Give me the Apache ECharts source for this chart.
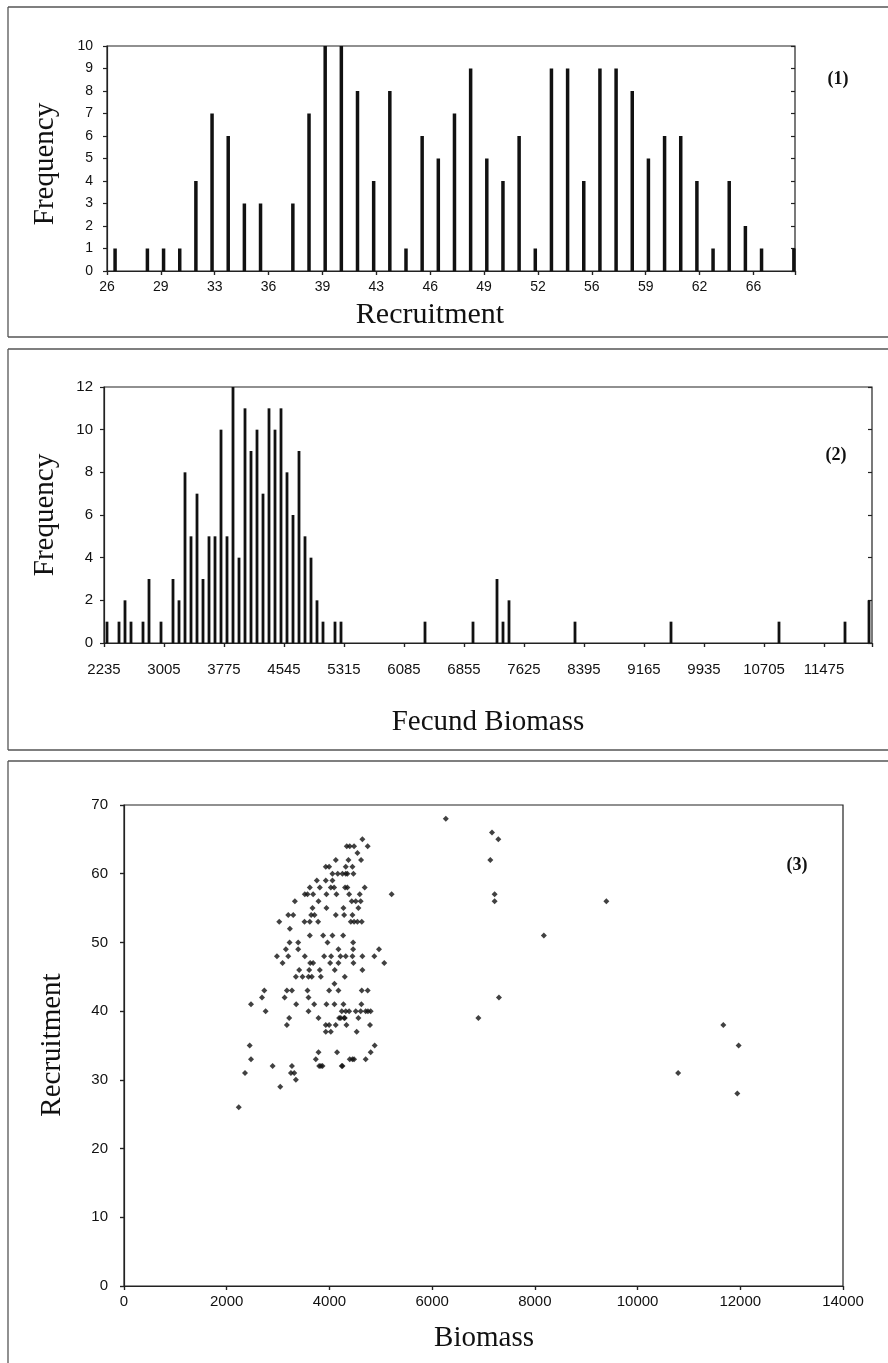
<!DOCTYPE html>
<html>
<head>
<meta charset="utf-8">
<script src="https://cdn.jsdelivr.net/npm/echarts@6.0.0/dist/echarts.min.js"></script>
<style>
  html, body { margin: 0; padding: 0; background: #fff; }
  #chart { width: 888px; height: 1363px; }
</style>
</head>
<body>
<div id="chart"></div>
<script>
// (1) recruitment histogram, bins of width 1 starting at 26
const recruitBins = [26, 27, 28, 29, 30, 31, 32, 33, 34, 35, 36, 37, 38, 39, 40, 41, 42, 43, 44, 45, 46,
  47, 48, 49, 50, 51, 52, 53, 54, 55, 56, 57, 58, 59, 60, 61, 62, 63, 64, 65, 66, 67, 68];
const recruitFreq = [1, 0, 1, 1, 1, 4, 7, 6, 3, 3, 0, 3, 7, 10, 10, 8, 4, 8, 1, 6, 5,
  7, 9, 5, 4, 6, 1, 9, 9, 4, 9, 9, 8, 5, 6, 6, 4, 1, 4, 2, 1, 0, 1];
const recruitTicks = ["26", "29", "33", "36", "39", "43", "46", "49", "52", "56", "59", "62", "66"];

// (2) fecund biomass histogram, bins of width 77 (only non-empty bins listed)
const fecundBinWidth = 77;
const fecundBins = [2235, 2389, 2466, 2543, 2697, 2774, 2928, 3082, 3159, 3236, 3313, 3390, 3467, 3544,
  3621, 3698, 3775, 3852, 3929, 4006, 4083, 4160, 4237, 4314, 4391, 4468, 4545, 4622, 4699, 4776,
  4853, 4930, 5007, 5161, 5238, 6316, 6932, 7240, 7317, 7394, 8241, 9473, 10859, 11706, 12014];
const fecundFreq = [1, 1, 2, 1, 1, 3, 1, 3, 2, 8, 5, 7, 3, 5,
  5, 10, 5, 12, 4, 11, 9, 10, 7, 11, 10, 11, 8, 6, 9, 5,
  4, 2, 1, 1, 1, 1, 1, 3, 1, 2, 1, 1, 1, 1, 2];

// (3) biomass vs recruitment
const biomass = [2234, 11942, 3042, 3347,
  2356, 3250, 3315, 10790,
  2894, 3270, 3800, 3865, 4254, 3835, 4240,
  2473, 3735, 4396, 4448, 4480, 4706,
  3787, 4149, 4803,
  2447, 4881, 11968,
  3929, 4027, 4531,
  3172, 3929, 3994, 4123, 4331, 4790, 11670,
  3217, 3787, 4189, 4286, 4564, 6900, 4220, 4300,
  2758, 3593, 4240, 4318, 4383, 4512, 4609, 4706, 4803, 4750,
  2473, 3353, 3703, 3942, 4098, 4273, 4622,
  2687, 3127, 3593, 7301,
  2732, 3172, 3270, 3573, 3994, 4176, 4629, 4745,
  4098,
  3347, 3476, 3593, 3657, 3832, 4299,
  3411, 3606, 3813, 4104, 4641,
  3087, 3625, 3683, 4014, 4176, 4467, 5068,
  2978, 3198, 3521, 3897, 4033, 4215, 4318, 4448, 4641, 4874,
  3152, 3392, 4176, 4461, 4965,
  3224, 3392, 3962, 4461,
  3618, 3877, 4059, 4267, 8175,
  3230,
  3023, 3515, 3618, 3780, 4416, 4480, 4545, 4629,
  3198, 3295, 3645, 3710, 4124, 4286, 4448,
  3670, 3942, 4273, 4564,
  3327, 3787, 4435, 4512, 4609, 7217, 9392,
  3521, 3573, 3683, 3942, 4137, 4383, 4590, 5211, 7217,
  3618, 3813, 4027, 4091, 4305, 4350, 4687,
  3754, 3929, 4059,
  4059, 4162, 4253, 4318, 4350, 4467,
  3929, 3994, 4318, 4448,
  4124, 4370, 4616, 7133,
  4545,
  4337, 4396, 4480, 4745,
  4641, 7289,
  7166,
  6266];
const recruitment = [26, 28, 29, 30,
  31, 31, 31, 31,
  32, 32, 32, 32, 32, 32, 32,
  33, 33, 33, 33, 33, 33,
  34, 34, 34,
  35, 35, 35,
  37, 37, 37,
  38, 38, 38, 38, 38, 38, 38,
  39, 39, 39, 39, 39, 39, 39, 39,
  40, 40, 40, 40, 40, 40, 40, 40, 40, 40,
  41, 41, 41, 41, 41, 41, 41,
  42, 42, 42, 42,
  43, 43, 43, 43, 43, 43, 43, 43,
  44,
  45, 45, 45, 45, 45, 45,
  46, 46, 46, 46, 46,
  47, 47, 47, 47, 47, 47, 47,
  48, 48, 48, 48, 48, 48, 48, 48, 48, 48,
  49, 49, 49, 49, 49,
  50, 50, 50, 50,
  51, 51, 51, 51, 51,
  52,
  53, 53, 53, 53, 53, 53, 53, 53,
  54, 54, 54, 54, 54, 54, 54,
  55, 55, 55, 55,
  56, 56, 56, 56, 56, 56, 56,
  57, 57, 57, 57, 57, 57, 57, 57, 57,
  58, 58, 58, 58, 58, 58, 58,
  59, 59, 59,
  60, 60, 60, 60, 60, 60,
  61, 61, 61, 61,
  62, 62, 62, 62,
  63,
  64, 64, 64, 64,
  65, 65,
  66,
  68];

const ink = "#111";
const sans = "Liberation Sans";
const serif = "Liberation Serif";

const lineStyle = { color: "#222", width: 1.2 };

// a value axis in the scanned Excel style
const mkAxis = (gridIndex, min, max, interval, fontSize, margin, formatter) => ({
  type: "value",
  gridIndex: gridIndex,
  min: min,
  max: max,
  interval: interval,
  splitLine: { show: false },
  axisLine: { show: true, onZero: false, lineStyle: lineStyle },
  axisTick: { show: true, length: 4, lineStyle: lineStyle },
  axisLabel: {
    color: ink,
    fontFamily: sans,
    fontSize: fontSize,
    margin: margin,
    formatter: formatter || ((v) => String(v)),
  },
});

// twin axis that only draws the inner half of the crossing ticks
const mkInnerTicks = (gridIndex, min, max, interval) => ({
  type: "value",
  gridIndex: gridIndex,
  min: min,
  max: max,
  interval: interval,
  splitLine: { show: false },
  axisLine: { show: false },
  axisLabel: { show: false },
  axisTick: { show: true, inside: true, length: 4, lineStyle: lineStyle },
});

const recruitStep = 10 / 3;
const recruitLabel = (v) => {
  const i = Math.round((v - 26) / recruitStep);
  if (Math.abs(v - (26 + i * recruitStep)) > 0.01) return "";
  return recruitTicks[i] || "";
};
const fecundLabel = (v) => ((v - 2235) % 770 === 0 ? String(v) : "");

const frame = (x1, y1, x2, y2) => ({
  type: "line",
  shape: { x1: x1, y1: y1, x2: x2, y2: y2 },
  style: { stroke: "#555", lineWidth: 1.3 },
});
const label = (text, x, y, size, opts = {}) => ({
  type: "text",
  x: x,
  y: y,
  rotation: opts.rotate ? Math.PI / 2 : 0,
  style: {
    text: text,
    fill: ink,
    font: (opts.bold ? "bold " : "") + size + "px " + serif,
    align: "center",
    verticalAlign: "middle",
  },
});

var chartDom = document.getElementById("chart");
var myChart = echarts.init(chartDom, null, { renderer: "canvas" });
var option;

option = {
  backgroundColor: "#fff",
  animation: false,
  grid: [
    { left: 107, top: 46, width: 688, height: 225, show: true, borderColor: "#222", borderWidth: 1.2, outerBoundsMode: "none" },
    { left: 104, top: 387, width: 768, height: 256, show: true, borderColor: "#222", borderWidth: 1.2, outerBoundsMode: "none" },
    { left: 124, top: 805, width: 719, height: 481, show: true, borderColor: "#222", borderWidth: 1.2, outerBoundsMode: "none" },
  ],
  xAxis: [
    mkAxis(0, 26, 68.57, recruitStep, 14, 9, recruitLabel),
    mkAxis(1, 2235, 2235 + 128 * fecundBinWidth, 770, 15, 19, fecundLabel),
    mkAxis(2, 0, 14000, 2000, 15, 8),
    mkInnerTicks(0, 26, 68.57, recruitStep),
    mkInnerTicks(1, 2235, 2235 + 128 * fecundBinWidth, 770),
    mkInnerTicks(2, 0, 14000, 2000),
  ],
  yAxis: [
    mkAxis(0, 0, 10, 1, 14, 14),
    mkAxis(1, 0, 12, 2, 15, 11),
    mkAxis(2, 0, 70, 10, 15, 16),
    mkInnerTicks(0, 0, 10, 1),
    mkInnerTicks(1, 0, 12, 2),
    mkInnerTicks(2, 0, 70, 10),
  ],
  series: [
    {
      type: "bar",
      xAxisIndex: 0,
      yAxisIndex: 0,
      barWidth: 3.5,
      itemStyle: { color: ink },
      data: recruitBins.map((b, i) => [b + 0.5, recruitFreq[i]]),
    },
    {
      type: "bar",
      xAxisIndex: 1,
      yAxisIndex: 1,
      barWidth: 2.8,
      itemStyle: { color: ink },
      data: fecundBins.map((b, i) => [b + fecundBinWidth / 2, fecundFreq[i]]),
    },
    {
      type: "scatter",
      xAxisIndex: 2,
      yAxisIndex: 2,
      symbol: "diamond",
      symbolSize: 6,
      itemStyle: { color: ink },
      data: biomass.map((b, i) => [b, recruitment[i]]),
    },
  ],
  graphic: [
    frame(8, 7, 888, 7),
    frame(8, 7, 8, 337),
    frame(8, 337, 888, 337),
    frame(8, 349, 888, 349),
    frame(8, 349, 8, 750),
    frame(8, 750, 888, 750),
    frame(8, 761, 888, 761),
    frame(8, 761, 8, 1363),
    label("Frequency", 45, 164, 29, { rotate: true }),
    label("Recruitment", 430, 315, 30),
    label("(1)", 838, 79, 18, { bold: true }),
    label("Frequency", 45, 515, 29, { rotate: true }),
    label("Fecund Biomass", 488, 722, 29),
    label("(2)", 836, 455, 18, { bold: true }),
    label("Recruitment", 52, 1045, 29, { rotate: true }),
    label("Biomass", 484, 1338, 29),
    label("(3)", 797, 865, 18, { bold: true }),
  ],
};

option && myChart.setOption(option);
</script>
</body>
</html>
